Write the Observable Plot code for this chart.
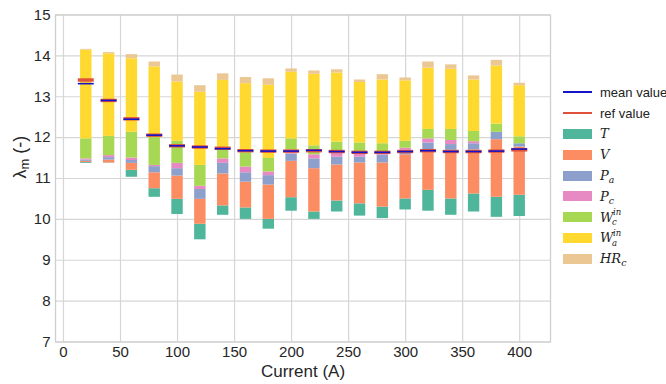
<!DOCTYPE html>
<html>
<head>
<meta charset="utf-8">
<script src="https://cdn.jsdelivr.net/npm/d3@7"></script>
<script src="https://cdn.jsdelivr.net/npm/@observablehq/plot@0.6"></script>
<style>
  body { margin: 0; background: #fff; }
  #wrap { position: relative; width: 666px; height: 384px; overflow: hidden; }
  #legend { position: absolute; left: 563px; top: 82px; font-family: "Liberation Sans", Arial, sans-serif; font-size: 13px; color: #222; }
  .row { height: 20.8px; display: flex; align-items: center; white-space: nowrap; overflow: visible; }
  .sw { width: 29px; height: 10px; margin-right: 8px; flex: none; }
  .ln { width: 29px; height: 0; border-top: 2px solid; margin-right: 8px; flex: none; }
  .m { font-family: "DejaVu Serif", "Liberation Serif", serif; font-style: italic; font-size: 13px; line-height: 1; position: relative; display: inline-block; }
  .gap { display: inline-block; width: 9px; }
  .sp { position: absolute; left: 13px; top: -2.5px; font-size: 8.5px; line-height: 1; }
  .sb { position: absolute; left: 12px; top: 7.5px; font-size: 8.5px; line-height: 1; }
  sub { font-size: 0.72em; vertical-align: -0.3em; line-height: 0; }
</style>
</head>
<body>
<div id="wrap">
  <div id="chart"></div>
  <div id="legend"></div>
</div>
<script>
// ---- data ----
const currents = [20, 40, 60, 80, 100, 120, 140, 160, 180, 200, 220, 240, 260, 280, 300, 320, 340, 360, 380, 400];
const base     = [11.37, 11.37, 11.03, 10.54, 10.12, 9.50, 10.10, 10.00, 9.76, 10.20, 10.00, 10.18, 10.08, 10.02, 10.23, 10.20, 10.10, 10.18, 10.05, 10.07];
const T   = [0.02, 0.01, 0.17, 0.21, 0.37, 0.38, 0.23, 0.28, 0.24, 0.33, 0.18, 0.27, 0.30, 0.28, 0.27, 0.51, 0.40, 0.44, 0.49, 0.52];
const V   = [0.03, 0.07, 0.17, 0.39, 0.57, 0.61, 0.78, 0.63, 0.84, 0.89, 1.06, 0.88, 1.00, 1.08, 1.08, 0.99, 1.19, 1.08, 1.41, 1.18];
const Pa  = [0.03, 0.06, 0.07, 0.15, 0.18, 0.24, 0.26, 0.23, 0.23, 0.18, 0.24, 0.19, 0.14, 0.19, 0.11, 0.17, 0.14, 0.15, 0.18, 0.08];
const Pc  = [0.03, 0.05, 0.06, 0.03, 0.13, 0.08, 0.11, 0.14, 0.09, 0.10, 0.10, 0.10, 0.08, 0.05, 0.05, 0.10, 0.10, 0.05, 0.00, 0.00];
const Wc  = [0.49, 0.47, 0.63, 0.70, 0.54, 0.51, 0.24, 0.35, 0.33, 0.27, 0.22, 0.27, 0.27, 0.23, 0.17, 0.23, 0.27, 0.25, 0.20, 0.17];
const Wa  = [2.17, 2.02, 1.80, 1.71, 1.45, 1.79, 1.68, 1.69, 1.79, 1.63, 1.75, 1.69, 1.48, 1.56, 1.48, 1.50, 1.47, 1.26, 1.42, 1.25];
const HRc = [0.02, 0.03, 0.10, 0.12, 0.17, 0.16, 0.16, 0.15, 0.16, 0.08, 0.08, 0.08, 0.06, 0.13, 0.07, 0.15, 0.11, 0.10, 0.14, 0.06];
const meanValue = [13.32, 12.91, 12.45, 12.06, 11.80, 11.77, 11.73, 11.68, 11.67, 11.67, 11.69, 11.66, 11.64, 11.64, 11.66, 11.68, 11.66, 11.66, 11.67, 11.72];
const refValue  = [13.41, 12.91, 12.46, 12.06, 11.80, 11.77, 11.74, 11.68, 11.67, 11.67, 11.68, 11.66, 11.64, 11.64, 11.66, 11.68, 11.66, 11.66, 11.67, 11.70];
const seriesNames = ["T", "V", "Pa", "Pc", "Wc", "Wa", "HRc"];
const seriesColors = ["#4fb59b", "#fc8d62", "#8da0cb", "#e78ac3", "#a6d854", "#ffd92f", "#ebc794"];
const xTicks = [0, 50, 100, 150, 200, 250, 300, 350, 400];
const yTicks = [7, 8, 9, 10, 11, 12, 13, 14, 15];
const meanColor = "#1414c8";
const refColor = "#e0503a";

// ---- build table ----
const seriesData = [T, V, Pa, Pc, Wc, Wa, HRc];
const segs = [];
currents.forEach((c, i) => {
  let cum = base[i];
  seriesNames.forEach((s, k) => {
    const h = seriesData[k][i];
    segs.push({current: c, series: s, y1: cum, y2: cum + h});
    cum += h;
  });
});
const lines = currents.map((c, i) => ({current: c, mean: meanValue[i], ref: refValue[i]}));

const font = "'Liberation Sans', Arial, sans-serif";
const chart = Plot.plot({
  width: 666,
  height: 384,
  marginLeft: 55,
  marginRight: 116,
  marginTop: 14.5,
  marginBottom: 42.5,
  style: {fontFamily: font, fontSize: "15px", color: "#262626", background: "#fff"},
  x: {domain: [-7, 427]},
  y: {domain: [7, 15]},
  color: {domain: seriesNames, range: seriesColors},
  marks: [
    Plot.gridX(xTicks, {stroke: "#d6d6d6", strokeOpacity: 1, strokeWidth: 1.2}),
    Plot.gridY(yTicks, {stroke: "#d6d6d6", strokeOpacity: 1, strokeWidth: 1.2}),
    Plot.frame({stroke: "#cfcfcf", strokeWidth: 1.3}),
    Plot.axisX(xTicks, {tickSize: 0, tickPadding: 4, label: null, fontSize: 15}),
    Plot.axisY(yTicks, {tickSize: 0, tickPadding: 5, label: null, fontSize: 15}),
    Plot.rect(segs, {x1: d => d.current - 5, x2: d => d.current + 5, y1: "y1", y2: "y2", fill: "series"}),
    Plot.ruleY(lines, {y: "ref", x1: d => d.current - 7, x2: d => d.current + 7, stroke: refColor, strokeWidth: 3.4}),
    Plot.ruleY(lines, {y: "mean", x1: d => d.current - 7, x2: d => d.current + 7, stroke: meanColor, strokeWidth: 1.6}),
    Plot.text(["Current (A)"], {frameAnchor: "bottom", dy: 35, text: d => d, fontSize: 17, fill: "#262626"}),
    Plot.text(["λm (-)"], {frameAnchor: "left", dx: -35, rotate: -90, text: d => d, fontSize: 18, fill: "#262626"})
  ]
});
document.getElementById("chart").appendChild(chart);

// subscript for y label
d3.select(chart).selectAll("text").filter(function() { return this.textContent === "λm (-)"; })
  .each(function() {
    const t = d3.select(this);
    t.text(null);
    t.append("tspan").text("λ");
    t.append("tspan").attr("font-size", "13px").attr("baseline-shift", "-25%").text("m");
    t.append("tspan").text(" (-)");
  });

// ---- legend ----
const labelsHtml = {
  T: '<span class="m">T</span>',
  V: '<span class="m">V</span>',
  Pa: '<span class="m">P<sub>a</sub></span>',
  Pc: '<span class="m">P<sub>c</sub></span>',
  Wc: '<span class="m">W<span class="gap"></span><span class="sp">in</span><span class="sb">c</span></span>',
  Wa: '<span class="m">W<span class="gap"></span><span class="sp">in</span><span class="sb">a</span></span>',
  HRc: '<span class="m">HR<sub>c</sub></span>'
};
const lg = d3.select("#legend");
lg.append("div").attr("class", "row").html(`<span class="ln" style="border-color:${meanColor}"></span><span>mean value</span>`);
lg.append("div").attr("class", "row").html(`<span class="ln" style="border-color:${refColor}"></span><span>ref value</span>`);
seriesNames.forEach((s, k) => {
  lg.append("div").attr("class", "row").html(`<span class="sw" style="background:${seriesColors[k]}"></span>${labelsHtml[s]}`);
});
</script>
</body>
</html>
